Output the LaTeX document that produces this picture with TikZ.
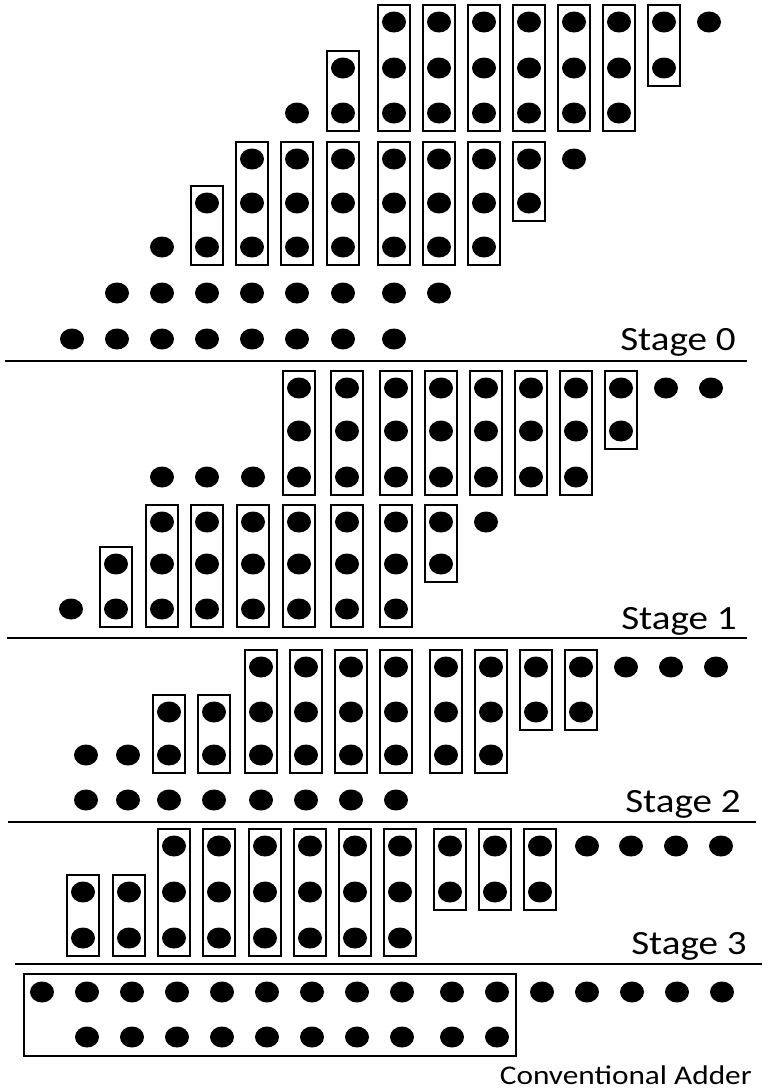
\documentclass[tikz,border=0pt]{standalone}
\usepackage{fontspec}
\usepackage{graphicx}
\setmainfont{Carlito}
\usetikzlibrary{fit,shapes.geometric}
\newcommand\boxcol[4]{%
  \foreach \yy [count=\k] in {#3} {\node[bit] (#1-\k) at (#2,\yy) {};}
  \node[colbox, fit=(#1-1)(#1-#4)] (#1-box) {};
}
\begin{document}
\begin{tikzpicture}[x=1pt,y=-1pt,
  bit/.style={ellipse, fill=black, minimum width=24pt, minimum height=21pt, inner sep=0pt, outer sep=0pt},
  colbox/.style={draw, rectangle, line width=2pt, inner xsep=4pt, inner ysep=7pt},
  addbox/.style={draw, rectangle, line width=2pt, inner xsep=6.5pt, inner ysep=8pt},
  sep/.style={line width=2.5pt},
  stagelabel/.style={anchor=base east, inner sep=0pt, font=\fontsize{34}{40}\selectfont},
  addlabel/.style={anchor=base east, inner sep=0pt, font=\fontsize{27}{32}\selectfont}]
\useasboundingbox (0,0) rectangle (768,1090);

% ---------------- Stage 0 ----------------
\node[bit] (s0a5-1) at (297,113) {};
\boxcol{s0a6}{343}{68,113}{2}
\foreach \x [count=\c from 7] in {394,439,484,529,574,619} {\boxcol{s0a\c}{\x}{22,68,113}{3}}
\boxcol{s0a13}{664}{22,68}{2}
\node[bit] (s0a14-1) at (709,22) {};
\node[bit] (s0b2-1) at (162,247) {};
\boxcol{s0b3}{207}{203,247}{2}
\foreach \x [count=\c from 4] in {252,297,343,394,439,484} {\boxcol{s0b\c}{\x}{159,203,247}{3}}
\boxcol{s0b10}{529}{159,203}{2}
\node[bit] (s0b11-1) at (574,159) {};
\foreach \x [count=\c from 1] in {117,162,207,252,297,343,394,439} {\node[bit] (s0c\c) at (\x,293) {};}
\foreach \x [count=\c from 0] in {72,117,162,207,252,297,343,394} {\node[bit] (s0d\c) at (\x,339) {};}
\node[stagelabel] (st0) at (736,350) {\scalebox{1.15}[1]{Stage 0}};
\coordinate (L0a) at (5,361); \coordinate (L0b) at (747,361);
\draw[sep] (L0a) -- (L0b);

% ---------------- Stage 1 ----------------
\foreach \x [count=\c from 2] in {162,207,253} {\node[bit] (s1a\c-1) at (\x,477) {};}
\foreach \x [count=\c from 5] in {299,347,396,441,486,531,576} {\boxcol{s1a\c}{\x}{388,431,477}{3}}
\boxcol{s1a12}{621}{388,431}{2}
\node[bit] (s1a13-1) at (666,388) {};
\node[bit] (s1a14-1) at (711,388) {};
\node[bit] (s1b0-1) at (71,609) {};
\boxcol{s1b1}{116}{564,609}{2}
\foreach \x [count=\c from 2] in {162,207,253,299,347,396} {\boxcol{s1b\c}{\x}{522,564,609}{3}}
\boxcol{s1b8}{441}{522,564}{2}
\node[bit] (s1b9-1) at (486,522) {};
\node[stagelabel] (st1) at (737,629) {\scalebox{1.15}[1]{Stage 1}};
\coordinate (L1a) at (7,638); \coordinate (L1b) at (747,638);
\draw[sep] (L1a) -- (L1b);

% ---------------- Stage 2 ----------------
\node[bit] (s2a0-1) at (86,755) {};
\node[bit] (s2a1-1) at (128,755) {};
\boxcol{s2a2}{169}{712,755}{2}
\boxcol{s2a3}{214}{712,755}{2}
\foreach \x [count=\c from 4] in {261,306,351,396,446,491} {\boxcol{s2a\c}{\x}{667,712,755}{3}}
\boxcol{s2a10}{536}{667,712}{2}
\boxcol{s2a11}{581}{667,712}{2}
\foreach \x [count=\c from 12] in {626,671,716} {\node[bit] (s2a\c-1) at (\x,667) {};}
\foreach \x [count=\c from 0] in {86,128,169,214,261,306,351,396} {\node[bit] (s2b\c) at (\x,800) {};}
\node[stagelabel] (st2) at (741,812) {\scalebox{1.15}[1]{Stage 2}};
\coordinate (L2a) at (8,822); \coordinate (L2b) at (756,822);
\draw[sep] (L2a) -- (L2b);

% ---------------- Stage 3 ----------------
\boxcol{s3a0}{83}{892,938}{2}
\boxcol{s3a1}{129}{892,938}{2}
\foreach \x [count=\c from 2] in {174,219,265,310,355,400} {\boxcol{s3a\c}{\x}{846,892,938}{3}}
\foreach \x [count=\c from 8] in {450,495,540} {\boxcol{s3a\c}{\x}{846,892}{2}}
\foreach \x [count=\c from 11] in {587,631,676,721} {\node[bit] (s3a\c-1) at (\x,846) {};}
\node[stagelabel] (st3) at (747,954) {\scalebox{1.15}[1]{Stage 3}};
\coordinate (L3a) at (15,964); \coordinate (L3b) at (762,964);
\draw[sep] (L3a) -- (L3b);

% ---------------- Conventional adder ----------------
\foreach \x [count=\c from 0] in {42,87,132,177,222,267,312,357,402,452,497,542,587,632,677,722} {\node[bit] (ad0-\c) at (\x,992) {};}
\foreach \x [count=\c from 1] in {87,132,177,222,267,312,357,402,452,497} {\node[bit] (ad1-\c) at (\x,1037) {};}
\node[addbox, fit=(ad0-0)(ad1-10)] (adbox) {};
\node[addlabel] (adlabel) at (752,1084) {\scalebox{1.16}[1]{Conventional Adder}};
\end{tikzpicture}
\end{document}
